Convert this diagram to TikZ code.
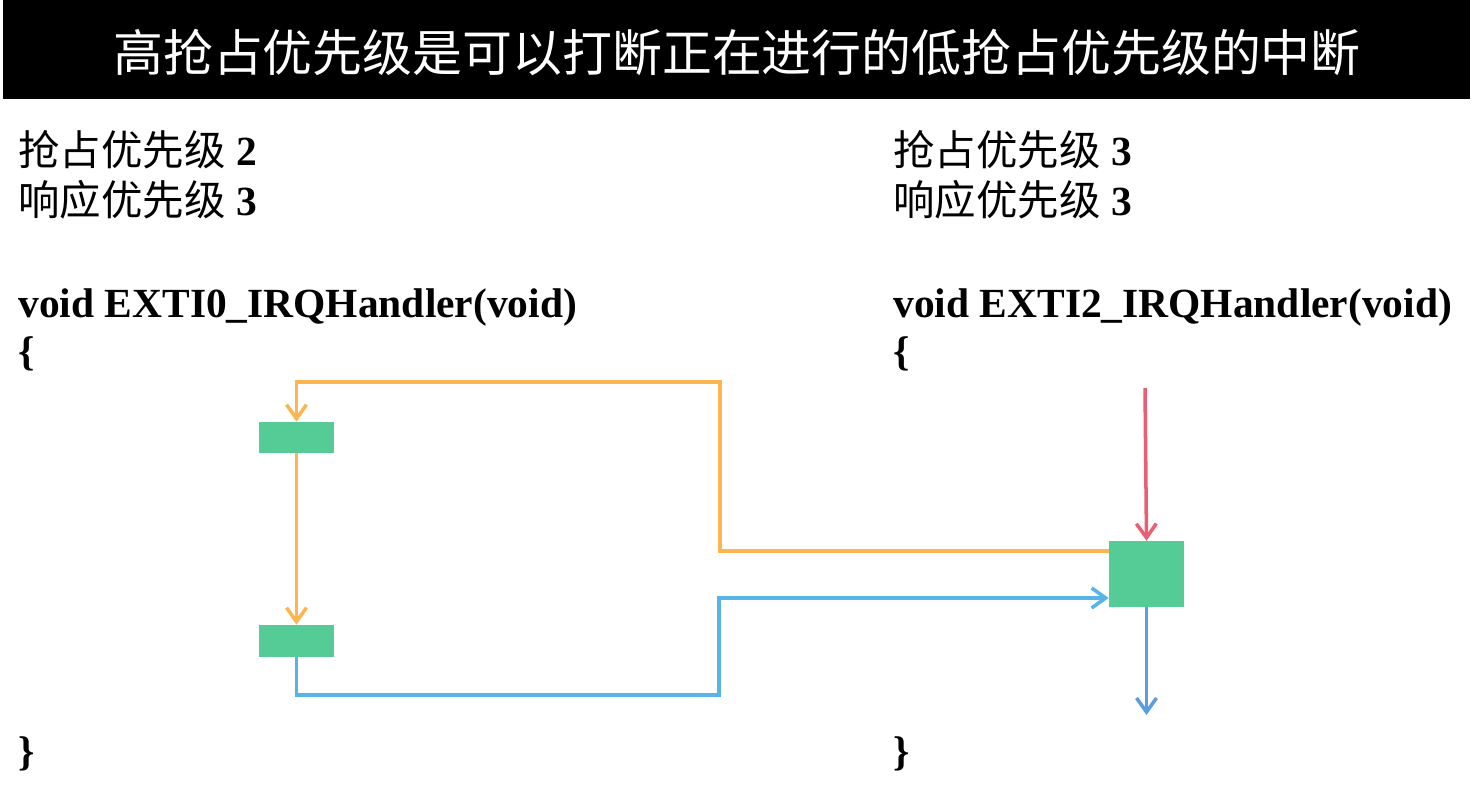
\documentclass[tikz,border=0pt]{standalone}
\usepackage{fontspec}
\setmainfont{Liberation Serif}
\newfontfamily\cjk{Noto Sans CJK SC}
\usepackage{xcolor}
\usetikzlibrary{arrows.meta}
\usetikzlibrary{positioning}
\definecolor{boxgreen}{HTML}{55CB96}
\definecolor{lineorange}{HTML}{FDB550}
\definecolor{lineblue}{HTML}{56B4E6}
\definecolor{linered}{HTML}{EA5F73}
\definecolor{lineout}{HTML}{5C9CE3}
\tikzset{>={Straight Barb[length=2.8mm,width=4mm]}}

\begin{document}
\begin{tikzpicture}[
        x=0.02cm, y=-0.02cm,
        codetext/.style={anchor=base west, inner sep=0, font=\fontsize{23.6}{28}\selectfont\bfseries},
        isrbox/.style={fill=boxgreen, draw=none, inner sep=0, minimum width=1.5cm},
        flow/.style={line width=2pt, ->},
    ]
        \useasboundingbox (0,0) rectangle (1473,791);

        % title bar
        \fill[black] (3,0) rectangle (1470,99);
        \node[text=white, font=\fontsize{28.4}{32}\selectfont\cjk] (title) at (737,52)
            {高抢占优先级是可以打断正在进行的低抢占优先级的中断};

        % left handler
        \node[codetext] (lpre) at (18,165) {{\cjk\mdseries 抢占优先级} 2};
        \node[codetext] (lsub) at (18,215) {{\cjk\mdseries 响应优先级} 3};
        \node[codetext] (lsig) at (18,317) {void EXTI0\_IRQHandler(void)};
        \node[codetext] (lopen) at (18,365) {\{};
        \node[codetext] (lclose) at (18,765) {\}};

        % right handler
        \node[codetext] (rpre) at (893,165) {{\cjk\mdseries 抢占优先级} 3};
        \node[codetext] (rsub) at (893,215) {{\cjk\mdseries 响应优先级} 3};
        \node[codetext] (rsig) at (893,317) {void EXTI2\_IRQHandler(void)};
        \node[codetext] (ropen) at (893,365) {\{};
        \node[codetext] (rclose) at (893,765) {\}};

        % code blocks
        \node[isrbox, minimum height=0.62cm] (low1) at (296.5,437.5) {};
        \node[isrbox, minimum height=0.64cm] (low2) at (296.5,641) {};
        \node[isrbox, minimum height=1.32cm] (high) at (1146.5,574) {};

        \coordinate (irq) at (1145,388);
        \coordinate (done) at (1146.5,715);

        % return to low priority
        \draw[flow, lineorange] ([yshift=0.46cm]high.west) -| (720,382) -| (low1.north);
        \draw[flow, lineorange] (low1.south) -- (low2.north);

        % jump to high priority
        \draw[flow, lineblue] (low2.south) |- (719,695) |- ([yshift=-0.48cm]high.west);

        \draw[flow, linered] (irq) -- (high.north);
        \draw[flow, lineout] (high.south) -- (done);
    \end{tikzpicture}
\end{document}
